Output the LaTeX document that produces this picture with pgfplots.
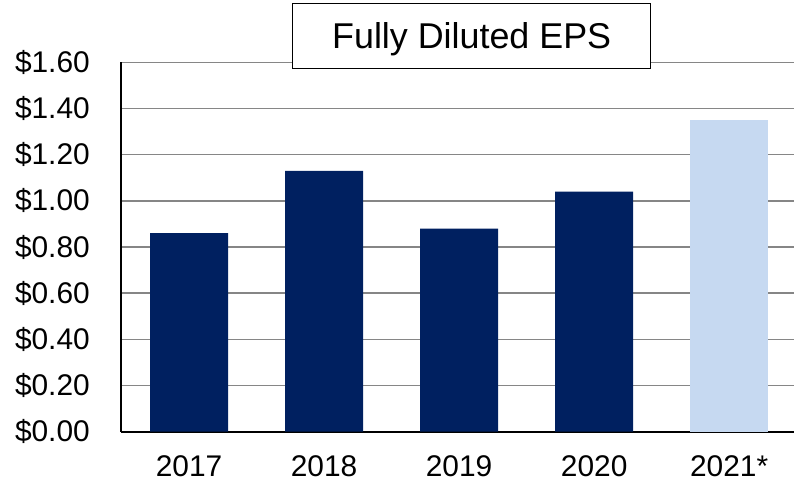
\documentclass[border=0pt]{standalone}
\usepackage{pgfplots}
\pgfplotsset{compat=1.18}
\usepackage{fontspec}
\setmainfont{Liberation Sans}
\definecolor{navy}{HTML}{002060}
\definecolor{lightblue}{HTML}{C6D9F1}
\definecolor{gridgray}{HTML}{868686}
\begin{document}
\begin{tikzpicture}
\path[use as bounding box] (-121.5bp,-51.3bp) rectangle (672.5bp,431.7bp);
\begin{axis}[
  scale only axis,
  width=672.5bp, height=369.4bp,
  xmin=-0.5, xmax=4.48,
  ymin=0, ymax=1.6,
  axis x line*=bottom, axis y line*=left,
  x axis line style={black, line width=2bp, -},
  y axis line style={black, line width=2bp, -},
  ymajorgrids,
  grid style={gridgray, line width=1.4bp},
  major tick length=0pt,
  ytick={0,0.2,0.4,0.6,0.8,1.0,1.2,1.4,1.6},
  yticklabels={\$0.00,\$0.20,\$0.40,\$0.60,\$0.80,\$1.00,\$1.20,\$1.40,\$1.60},
  xtick={0,1,2,3,4},
  xticklabels={2017,2018,2019,2020,2021*},
  tick label style={font=\fontsize{30}{36}\selectfont, inner sep=0pt},
  yticklabel style={anchor=east, xshift=-31.5bp},
  xticklabel style={anchor=north, yshift=-23.3bp},
  ybar, bar width=78bp, bar shift=0pt,
  clip=false,
]
\addplot[draw=none, fill=navy] coordinates {(0,0.86) (1,1.13) (2,0.88) (3,1.04)};
\addplot[draw=none, fill=lightblue] coordinates {(4,1.35)};
\end{axis}
\node[draw=black, line width=1.5bp, fill=white, minimum width=358bp, minimum height=65bp, inner sep=0pt,
  font=\fontsize{36}{42}\selectfont, text height=25.8bp, text depth=0pt] at (350.2bp,395.9bp) {Fully Diluted EPS};
\end{tikzpicture}
\end{document}
